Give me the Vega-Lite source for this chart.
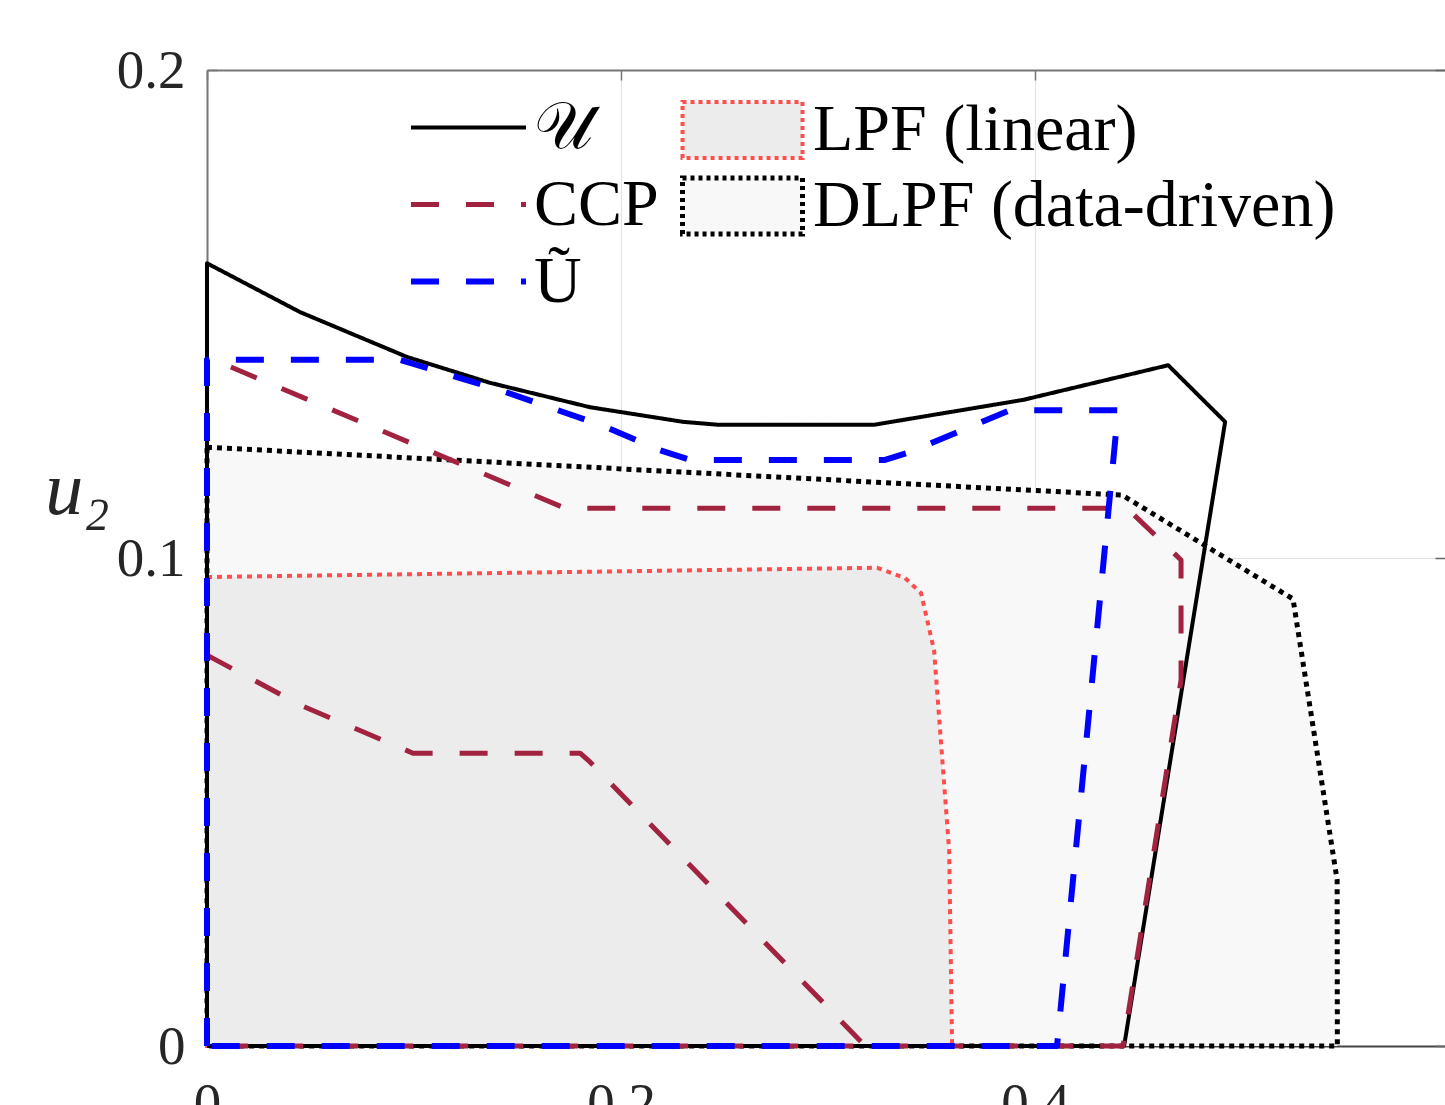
{
  "$schema": "https://vega.github.io/schema/vega-lite/v6.json",
  "autosize": {"type": "none"},
  "padding": {"left": 207, "top": 70, "right": 0, "bottom": 59},
  "width": 1238,
  "height": 976,
  "background": "white",
  "config": {"view": {"stroke": null}, "font": "Liberation Serif"},
  "datasets": {
    "regions": [
      {"region": "DLPF (data-driven)", "x": 0, "y": 0.1227},
      {"region": "DLPF (data-driven)", "x": 0.442, "y": 0.1129},
      {"region": "DLPF (data-driven)", "x": 0.5246, "y": 0.0916},
      {"region": "DLPF (data-driven)", "x": 0.5459, "y": 0.034},
      {"region": "DLPF (data-driven)", "x": 0.546, "y": 0},
      {"region": "LPF (linear)", "x": 0, "y": 0.0961},
      {"region": "LPF (linear)", "x": 0.3237, "y": 0.098},
      {"region": "LPF (linear)", "x": 0.3372, "y": 0.0959},
      {"region": "LPF (linear)", "x": 0.3449, "y": 0.0928},
      {"region": "LPF (linear)", "x": 0.3512, "y": 0.0811},
      {"region": "LPF (linear)", "x": 0.3585, "y": 0.04},
      {"region": "LPF (linear)", "x": 0.3599, "y": 0}
    ],
    "lines": [
      {"curve": "𝒰", "part": "U", "i": 0, "x": 0, "y": 0},
      {"curve": "𝒰", "part": "U", "i": 1, "x": 0, "y": 0.1604},
      {"curve": "𝒰", "part": "U", "i": 2, "x": 0.0449, "y": 0.1504},
      {"curve": "𝒰", "part": "U", "i": 3, "x": 0.0966, "y": 0.1412},
      {"curve": "𝒰", "part": "U", "i": 4, "x": 0.1367, "y": 0.1359},
      {"curve": "𝒰", "part": "U", "i": 5, "x": 0.185, "y": 0.1309},
      {"curve": "𝒰", "part": "U", "i": 6, "x": 0.23, "y": 0.1279},
      {"curve": "𝒰", "part": "U", "i": 7, "x": 0.2469, "y": 0.1273},
      {"curve": "𝒰", "part": "U", "i": 8, "x": 0.3222, "y": 0.1273},
      {"curve": "𝒰", "part": "U", "i": 9, "x": 0.3942, "y": 0.1324},
      {"curve": "𝒰", "part": "U", "i": 10, "x": 0.4643, "y": 0.1395},
      {"curve": "𝒰", "part": "U", "i": 11, "x": 0.4918, "y": 0.1279},
      {"curve": "𝒰", "part": "U", "i": 12, "x": 0.443, "y": 0},
      {"curve": "𝒰", "part": "U", "i": 13, "x": 0, "y": 0},
      {"curve": "CCP", "part": "CCPout", "i": 0, "x": 0, "y": 0},
      {"curve": "CCP", "part": "CCPout", "i": 1, "x": 0, "y": 0.1412},
      {"curve": "CCP", "part": "CCPout", "i": 2, "x": 0.173, "y": 0.1102},
      {"curve": "CCP", "part": "CCPout", "i": 3, "x": 0.4444, "y": 0.1102},
      {"curve": "CCP", "part": "CCPout", "i": 4, "x": 0.4705, "y": 0.0996},
      {"curve": "CCP", "part": "CCPout", "i": 5, "x": 0.4705, "y": 0.075},
      {"curve": "CCP", "part": "CCPout", "i": 6, "x": 0.4425, "y": 0},
      {"curve": "CCP", "part": "CCPout", "i": 7, "x": 0, "y": 0},
      {"curve": "CCP", "part": "CCPin", "i": 0, "x": 0, "y": 0.0801},
      {"curve": "CCP", "part": "CCPin", "i": 1, "x": 0.0449, "y": 0.0699},
      {"curve": "CCP", "part": "CCPin", "i": 2, "x": 0.0995, "y": 0.06},
      {"curve": "CCP", "part": "CCPin", "i": 3, "x": 0.1802, "y": 0.06},
      {"curve": "CCP", "part": "CCPin", "i": 4, "x": 0.185, "y": 0.0582},
      {"curve": "CCP", "part": "CCPin", "i": 5, "x": 0.3179, "y": 0},
      {"curve": "Ũ", "part": "Ut", "i": 0, "x": 0, "y": 0},
      {"curve": "Ũ", "part": "Ut", "i": 1, "x": 0, "y": 0.1406},
      {"curve": "Ũ", "part": "Ut", "i": 2, "x": 0.0932, "y": 0.1406},
      {"curve": "Ũ", "part": "Ut", "i": 3, "x": 0.1415, "y": 0.1344},
      {"curve": "Ũ", "part": "Ut", "i": 4, "x": 0.1899, "y": 0.1273},
      {"curve": "Ũ", "part": "Ut", "i": 5, "x": 0.2188, "y": 0.1221},
      {"curve": "Ũ", "part": "Ut", "i": 6, "x": 0.2333, "y": 0.1201},
      {"curve": "Ũ", "part": "Ut", "i": 7, "x": 0.3275, "y": 0.1201},
      {"curve": "Ũ", "part": "Ut", "i": 8, "x": 0.3396, "y": 0.1217},
      {"curve": "Ũ", "part": "Ut", "i": 9, "x": 0.3879, "y": 0.1303},
      {"curve": "Ũ", "part": "Ut", "i": 10, "x": 0.4401, "y": 0.1303},
      {"curve": "Ũ", "part": "Ut", "i": 11, "x": 0.4106, "y": 0},
      {"curve": "Ũ", "part": "Ut", "i": 12, "x": 0, "y": 0}
    ]
  },
  "layer": [
    {
      "data": {"name": "regions"},
      "mark": {"type": "area", "opacity": 1, "strokeDash": [5, 5], "strokeCap": "butt"},
      "encoding": {
        "x": {"field": "x", "type": "quantitative",
          "scale": {"domain": [0, 0.598], "nice": false, "zero": false},
          "axis": {"orient": "bottom", "values": [0, 0.2, 0.4, 0.6], "format": "~g", "title": null,
            "labelFont": "Liberation Serif", "labelFontSize": 55, "labelColor": "#262626", "labelPadding": 41,
            "labelFlush": false, "labelOverlap": false,
            "domainColor": "#444444", "domainWidth": 2, "tickColor": "#444444", "tickSize": -10, "tickWidth": 1.5,
            "grid": true, "gridColor": "#e3e3e3", "gridWidth": 1.2}},
        "y": {"field": "y", "type": "quantitative", "stack": null,
          "scale": {"domain": [0, 0.2], "nice": false, "zero": false},
          "axis": {"orient": "left", "values": [0, 0.1, 0.2], "format": "~g",
            "labelFont": "Liberation Serif", "labelFontSize": 55, "labelColor": "#262626", "labelPadding": 32,
            "labelFlush": false, "labelOverlap": false,
            "domainColor": "#777777", "domainWidth": 2, "tickColor": "#777777", "tickSize": -10, "tickWidth": 1.5,
            "grid": true, "gridColor": "#e3e3e3", "gridWidth": 1.2,
            "title": "u₂", "titleFont": "Liberation Serif", "titleFontStyle": "italic", "titleFontWeight": "normal",
            "titleFontSize": 76, "titleColor": "#262626", "titleAngle": 0, "titleAlign": "center", "titleBaseline": "middle",
            "titleX": -130, "titleY": 420}},
        "fill": {"field": "region", "type": "nominal",
          "scale": {"domain": ["LPF (linear)", "DLPF (data-driven)"], "range": ["#ececec", "#f8f8f8"]},
          "legend": {"orient": "none", "legendX": 473, "legendY": 22, "title": null, "padding": 0, "rowPadding": 0,
            "symbolType": "M-1,-0.467H1V0.467H-1Z", "symbolSize": 14400, "symbolStrokeWidth": 4, "symbolDash": [4, 4],
            "clipHeight": 76, "labelFont": "Liberation Serif", "labelFontSize": 66, "labelLimit": 800, "labelColor": "#000000", "labelOffset": 8, "labelBaseline": "middle"}},
        "stroke": {"field": "region", "type": "nominal",
          "scale": {"domain": ["LPF (linear)", "DLPF (data-driven)"], "range": ["#ff4d4d", "#000000"]},
          "legend": {"orient": "none", "legendX": 473, "legendY": 22, "title": null, "padding": 0, "rowPadding": 0,
            "symbolType": "M-1,-0.467H1V0.467H-1Z", "symbolSize": 14400, "symbolStrokeWidth": 4, "symbolDash": [4, 4],
            "clipHeight": 76, "labelFont": "Liberation Serif", "labelFontSize": 66, "labelLimit": 800, "labelColor": "#000000", "labelOffset": 8, "labelBaseline": "middle"}},
        "strokeWidth": {"field": "region", "type": "nominal",
          "scale": {"domain": ["LPF (linear)", "DLPF (data-driven)"], "range": [4, 5]}, "legend": null}
      }
    },
    {
      "data": {"name": "lines"},
      "mark": {"type": "line", "strokeCap": "butt", "strokeJoin": "round"},
      "encoding": {
        "x": {"field": "x", "type": "quantitative", "axis": null},
        "y": {"field": "y", "type": "quantitative", "axis": null},
        "detail": {"field": "part", "type": "nominal"},
        "order": {"field": "i", "type": "quantitative"},
        "stroke": {"field": "curve", "type": "nominal",
          "scale": {"domain": ["𝒰", "CCP", "Ũ"], "range": ["#000000", "#a2233f", "#0000ff"]},
          "legend": {"orient": "none", "legendX": 201, "legendY": 19, "title": null, "padding": 0, "rowPadding": 0,
            "symbolType": "stroke", "symbolSize": 13225, "symbolStrokeWidth": 5, "clipHeight": 77,
            "labelFont": "Liberation Serif", "labelFontSize": 66, "labelLimit": 800, "labelColor": "#000000", "labelOffset": 5, "labelBaseline": "middle"}},
        "strokeDash": {"field": "curve", "type": "nominal",
          "scale": {"domain": ["𝒰", "CCP", "Ũ"], "range": [[1, 0], [28, 27], [28, 27]]},
          "legend": {"orient": "none", "legendX": 201, "legendY": 19, "title": null, "padding": 0, "rowPadding": 0,
            "symbolType": "stroke", "symbolSize": 13225, "symbolStrokeWidth": 5, "clipHeight": 77,
            "labelFont": "Liberation Serif", "labelFontSize": 66, "labelLimit": 800, "labelColor": "#000000", "labelOffset": 5, "labelBaseline": "middle"}},
        "strokeWidth": {"field": "curve", "type": "nominal",
          "scale": {"domain": ["𝒰", "CCP", "Ũ"], "range": [4, 6, 6]}, "legend": null}
      }
    },
    {
      "data": {"values": [{"v": 0}]},
      "mark": {"type": "rule", "opacity": 0},
      "encoding": {
        "y": {"field": "v", "type": "quantitative",
          "axis": {"orient": "right", "values": [0, 0.1, 0.2], "labels": false, "domain": false, "grid": false, "title": null,
            "ticks": true, "tickSize": -10, "tickColor": "#666666", "tickWidth": 1.5}}
      }
    },
    {
      "data": {"values": [{"v": 0}]},
      "mark": {"type": "rule", "opacity": 0},
      "encoding": {
        "x": {"field": "v", "type": "quantitative",
          "axis": {"orient": "top", "values": [0, 0.2, 0.4, 0.6], "labels": false, "domain": true, "domainColor": "#777777", "domainWidth": 2,
            "grid": false, "title": null, "ticks": true, "tickSize": -10, "tickColor": "#777777", "tickWidth": 1.5}}
      }
    }
  ],
  "resolve": {"scale": {"fill": "independent", "stroke": "independent", "strokeDash": "independent", "strokeWidth": "independent"}, "axis": {"x": "independent", "y": "independent"}}
}
